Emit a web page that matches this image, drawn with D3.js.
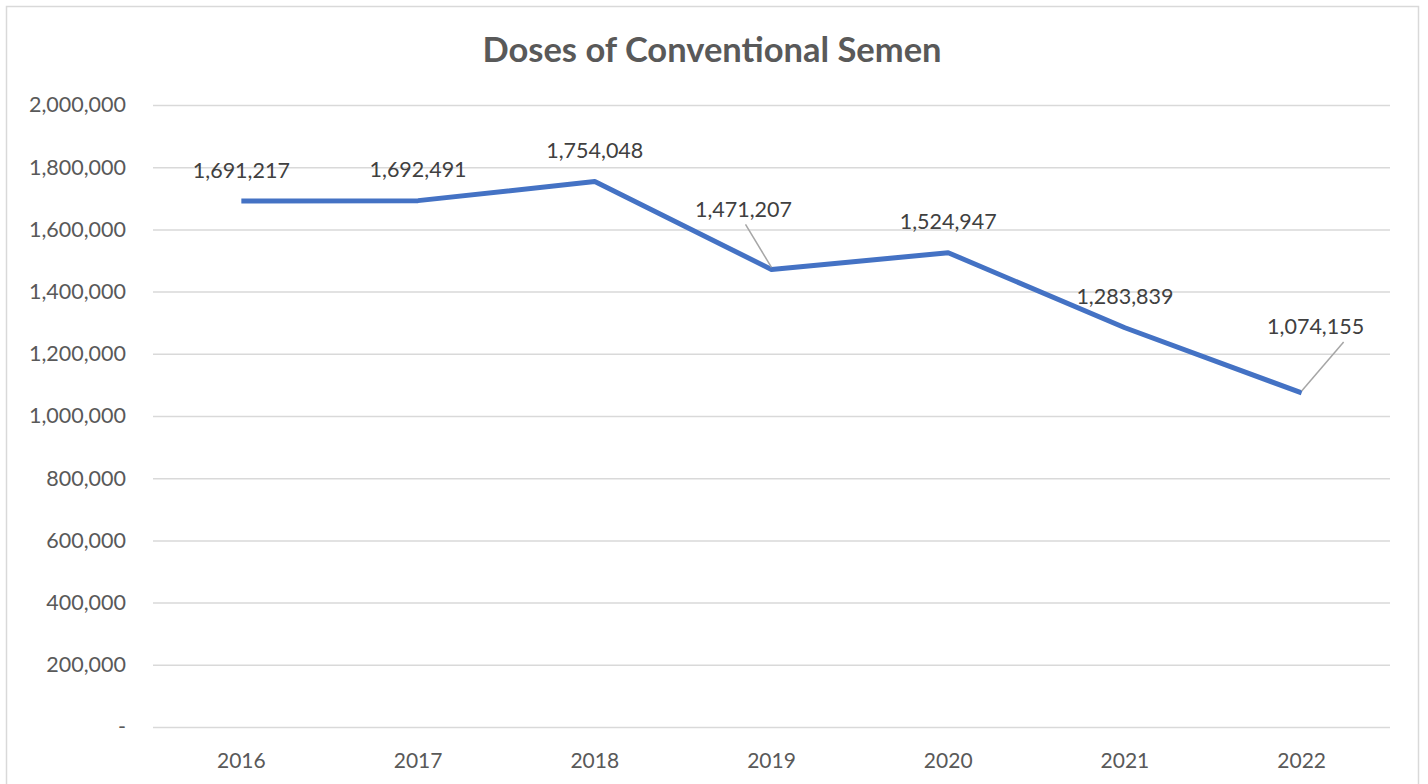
<!DOCTYPE html>
<html>
<head>
<meta charset="utf-8">
<script src="https://cdn.jsdelivr.net/npm/d3@7"></script>
<style>
  body { margin: 0; background: #fff; }
  text { font-family: Lato, "Open Sans", sans-serif; }
</style>
</head>
<body>
<div id="chart"></div>
<script>
const years = ["2016", "2017", "2018", "2019", "2020", "2021", "2022"];
const doses = [1691217, 1692491, 1754048, 1471207, 1524947, 1283839, 1074155];
const yTicks = [0, 200000, 400000, 600000, 800000, 1000000, 1200000, 1400000, 1600000, 1800000, 2000000];

// labels Excel moved off the line, with leader lines
const labelShift = { "2019": [-28, -60], "2022": [14, -66] };

const W = 1428, H = 784;
const margin = {top: 105, right: 38, bottom: 57, left: 153};
const width = W - margin.left - margin.right,
      height = H - margin.top - margin.bottom;

const svg = d3.select("#chart").append("svg")
    .attr("width", W)
    .attr("height", H);

svg.append("rect")
    .attr("x", 6.5).attr("y", 6.5)
    .attr("width", 1412).attr("height", 800)
    .attr("fill", "#fff")
    .attr("stroke", "#d9d9d9")
    .attr("stroke-width", 1.5);

svg.append("text")
    .attr("x", 712).attr("y", 62)
    .attr("text-anchor", "middle")
    .attr("font-size", 34.5)
    .attr("font-weight", "bold")
    .attr("fill", "#595959")
    .text("Doses of Conventional Semen");

const g = svg.append("g")
    .attr("transform", `translate(${margin.left},${margin.top})`);

const x = d3.scaleBand().domain(years).range([0, width]);
const y = d3.scaleLinear().domain([0, 2000000]).range([height, 0]);

const fmt = d3.format(",");

g.append("g")
    .call(d3.axisLeft(y).tickValues(yTicks).tickSize(-width).tickPadding(27)
        .tickFormat(d => d === 0 ? "-" : fmt(d)))
    .call(a => a.select(".domain").remove())
    .call(a => a.selectAll("line").attr("stroke", "#d9d9d9").attr("stroke-width", 1.5))
    .call(a => a.selectAll("text").attr("font-size", 21.5).attr("fill", "#595959")
        .attr("font-family", "Lato, sans-serif"));

g.append("g")
    .attr("transform", `translate(0,${height})`)
    .call(d3.axisBottom(x).tickSize(0).tickPadding(26))
    .call(a => a.select(".domain").remove())
    .call(a => a.selectAll("text").attr("font-size", 21).attr("fill", "#595959")
        .attr("font-family", "Lato, sans-serif"));

const line = d3.line()
    .x((d, i) => x(years[i]) + x.bandwidth() / 2)
    .y(d => y(d));

g.append("path")
    .datum(doses)
    .attr("fill", "none")
    .attr("stroke", "#4472c4")
    .attr("stroke-width", 5)
    .attr("stroke-linejoin", "round")
    .attr("d", line);

const labels = g.selectAll(".lbl")
    .data(doses)
    .enter().append("g")
    .attr("class", "lbl");

labels.each(function(d, i) {
    const px = x(years[i]) + x.bandwidth() / 2, py = y(d);
    const sh = labelShift[years[i]];
    const lx = px + (sh ? sh[0] : 0), ly = py + (sh ? sh[1] : -31);
    const sel = d3.select(this);
    if (sh) {
        const ex = sh[0] < 0 ? lx + 2 : lx + 28;
        sel.append("line")
            .attr("x1", ex).attr("y1", ly + 15)
            .attr("x2", px).attr("y2", py - 2)
            .attr("stroke", "#a6a6a6")
            .attr("stroke-width", 1.5);
    }
    sel.append("text")
        .attr("x", lx).attr("y", ly)
        .attr("dy", "0.35em")
        .attr("text-anchor", "middle")
        .attr("font-size", 21.5)
        .attr("fill", "#404040")
        .text(fmt(d));
});
</script>
</body>
</html>
